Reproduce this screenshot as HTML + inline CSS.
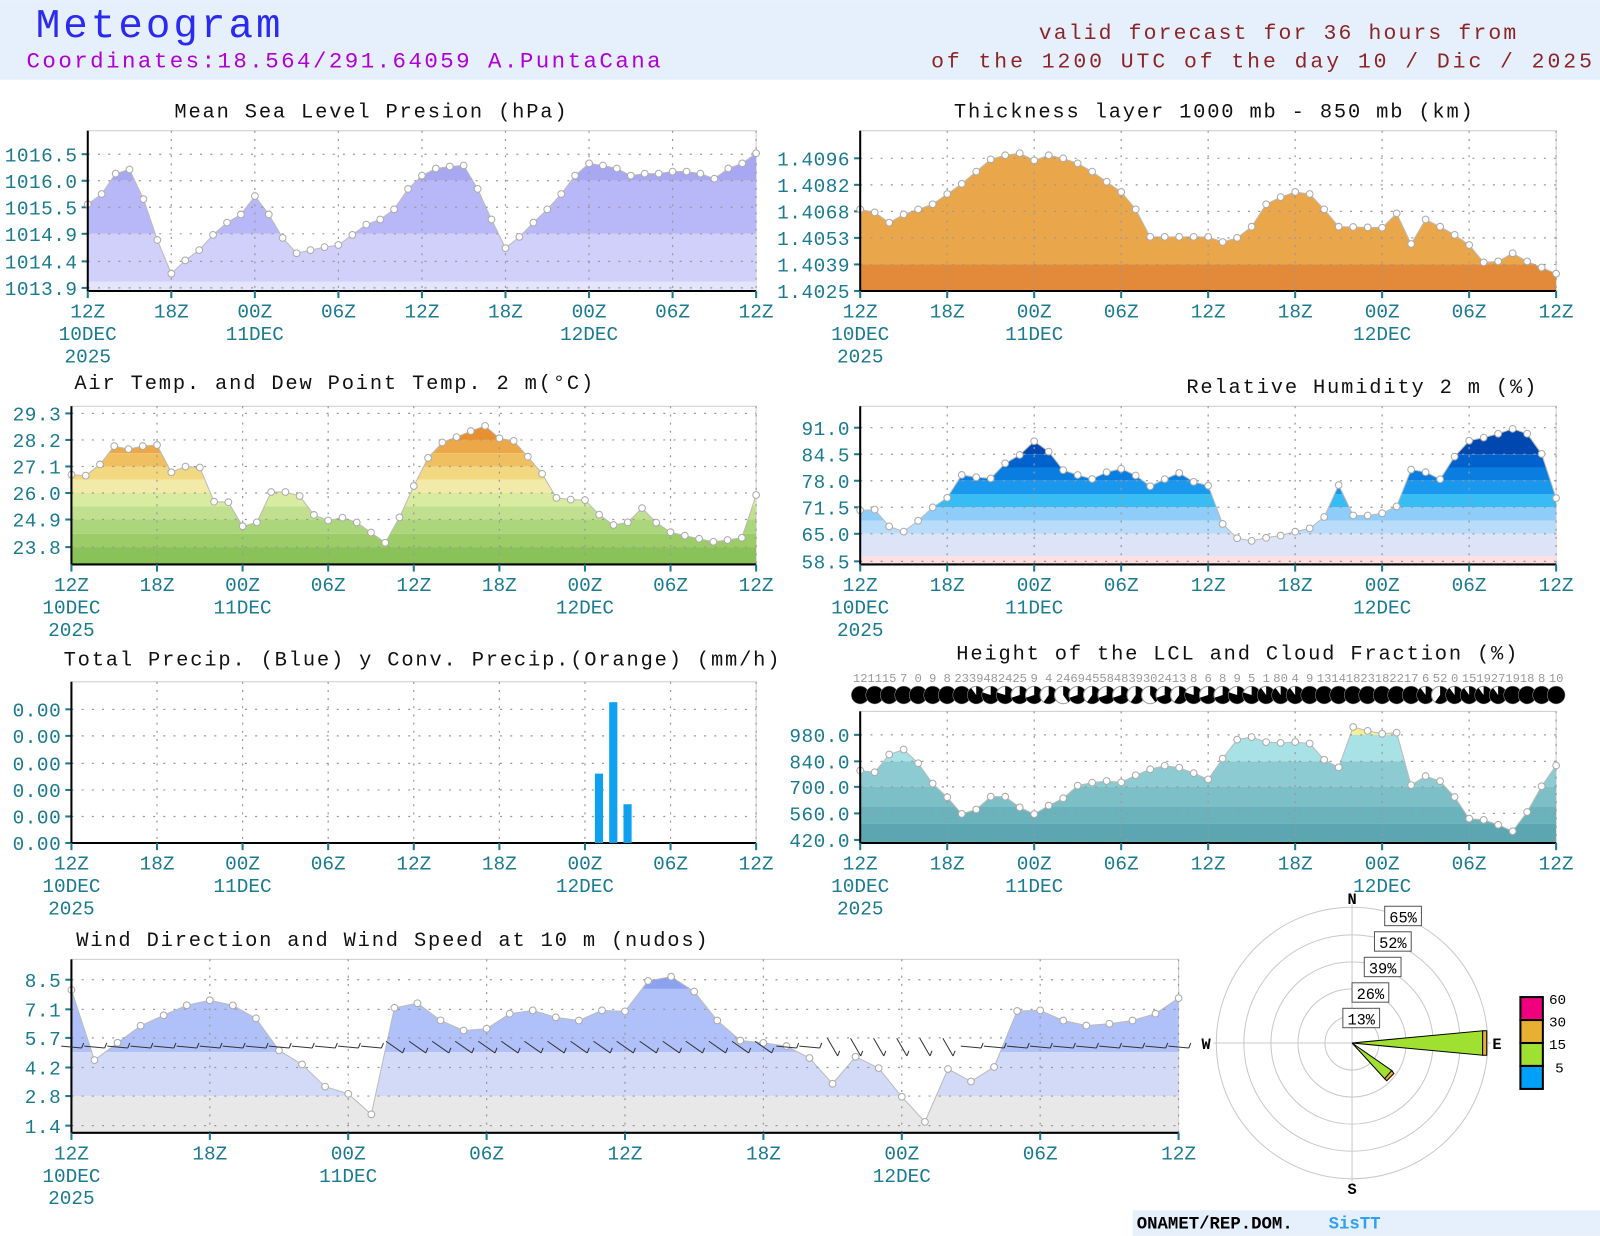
<!DOCTYPE html>
<html><head><meta charset="utf-8"><style>
html,body{margin:0;padding:0;background:#fff}
svg{display:block}
text{font-family:"Liberation Mono","DejaVu Sans Mono",monospace}
</style></head><body>
<svg id="s" width="1600" height="1236" viewBox="0 0 1568 1211" xmlns="http://www.w3.org/2000/svg"></svg>
<script>
var o='';
var T='#1a7a90';
function t(x,y,s,size,fill,anchor,extra){o+='<text x="'+x+'" y="'+y+'" font-size="'+size+'" fill="'+fill+'" text-anchor="'+(anchor||'start')+'" '+(extra||'')+'>'+s+'</text>';}
o+='<rect x="0" y="0" width="1568" height="78" fill="#e6effc"/>';
t(35,36,'Meteogram',40,'#2a2af0','start','letter-spacing="3"');
t(26,66,'Coordinates:18.564/291.64059  A.PuntaCana',22,'#b000d8','start','letter-spacing="2.4"');
t(1488,38,'valid forecast for 36 hours from',21,'#8b2525','end','letter-spacing="2.1"');
t(1563,66,'of the 1200 UTC of the day 10 / Dic / 2025',21,'#8b2525','end','letter-spacing="2.9"');
var pid=0;
function interp(keys,h){for(var i=0;i<keys.length-1;i++){if(h>=keys[i][0]&&h<=keys[i+1][0]){var a=keys[i],b=keys[i+1];return a[1]+(b[1]-a[1])*(h-a[0])/(b[0]-a[0]);}}return keys[keys.length-1][1];}
function panel(P){
 pid++;
 var x0=P.x0,x1=P.x1,yt=P.yt,yb=P.yb,n=P.n||48;
 o+='<rect x="'+x0+'" y="'+yt+'" width="'+(x1-x0)+'" height="'+(yb-yt)+'" fill="#fff" stroke="#ccc" stroke-width="1"/>';
 if(P.keys){
 var pts=[];for(var h=0;h<=n;h++){var x=x0+(x1-x0)*h/n;pts.push([x,interp(P.keys,h)]);}
 var poly=x0+','+yb+' '+pts.map(function(p){return p[0].toFixed(1)+','+p[1].toFixed(1)}).join(' ')+' '+x1+','+yb;
 o+='<clipPath id="c'+pid+'"><polygon points="'+poly+'"/></clipPath><g clip-path="url(#c'+pid+')">';
 P.bands.forEach(function(b){o+='<rect x="'+x0+'" y="'+b[0]+'" width="'+(x1-x0)+'" height="'+(b[1]-b[0])+'" fill="'+b[2]+'"/>';});
 o+='</g>';
 o+='<polyline points="'+pts.map(function(p){return p[0].toFixed(1)+','+p[1].toFixed(1)}).join(' ')+'" fill="none" stroke="#bbb" stroke-width="1"/>';
 P._pts=pts;
 }
 P.xt.forEach(function(x){o+='<line x1="'+x+'" y1="'+yt+'" x2="'+x+'" y2="'+yb+'" stroke="#999" stroke-width="1.2" stroke-dasharray="2,6"/>';});
 P.yl.forEach(function(l){o+='<line x1="'+x0+'" y1="'+l[1]+'" x2="'+x1+'" y2="'+l[1]+'" stroke="#999" stroke-width="1.2" stroke-dasharray="2,8"/>';
  o+='<line x1="'+(x0-6)+'" y1="'+l[1]+'" x2="'+x0+'" y2="'+l[1]+'" stroke="'+T+'" stroke-width="2"/>';
  t(x0-10,l[1]+7,l[0],19,T,'end','letter-spacing="0.5"');});
 if(P._pts){P._pts.forEach(function(p){o+='<circle cx="'+p[0].toFixed(1)+'" cy="'+p[1].toFixed(1)+'" r="3.3" fill="#fff" stroke="#aaa" stroke-width="1"/>';});}
 o+='<line x1="'+x0+'" y1="'+yt+'" x2="'+x0+'" y2="'+yb+'" stroke="#000" stroke-width="2"/>';
 o+='<line x1="'+x0+'" y1="'+yb+'" x2="'+x1+'" y2="'+yb+'" stroke="#000" stroke-width="2"/>';
 var lab=['12Z','18Z','00Z','06Z','12Z','18Z','00Z','06Z','12Z'];
 P.xt.forEach(function(x,i){o+='<line x1="'+x+'" y1="'+yb+'" x2="'+x+'" y2="'+(yb+7)+'" stroke="'+T+'" stroke-width="2"/>';
  t(x,yb+26,lab[i],19,T,'middle');});
 t(P.xt[0],yb+48,'10DEC',19,T,'middle');t(P.xt[2],yb+48,'11DEC',19,T,'middle');t(P.xt[6],yb+48,'12DEC',19,T,'middle');
 t(P.xt[0],yb+70,'2025',19,T,'middle');
 t(P.tx,P.ty,P.title,20,'#111','middle','letter-spacing="1.8"');
}
function ticks(a,b){var r=[];for(var i=0;i<=8;i++)r.push(a+(b-a)*i/8);return r;}
function kx(x0,x1,arr){var s=(x1-x0)/48;return arr.map(function(p){return [(p[0]-x0)/s,p[1]];});}
var m=[200,190,170,166,195,235,268,255,245,230,218,210,192,210,233,248,245,242,240,230,220,215,205,185,172,165,163,162,185,215,243,232,218,205,190,172,160,162,165,172,170,170,168,168,170,175,165,160,150];
panel({x0:86,x1:741,yt:128,yb:285,keys:m.map(function(v,i){return[i,v]}),xt:ticks(86,741),
 bands:[[0,177,'#a8a8f2'],[177,229,'#b8b8f8'],[229,276,'#d0d0fa'],[276,300,'#e4e4fc']],
 yl:[['1016.5',151],['1016.0',177],['1015.5',203],['1014.9',229],['1014.4',256],['1013.9',282]],
 title:'Mean Sea Level Presion (hPa)',tx:364,ty:115});
panel({x0:843,x1:1525,yt:128,yb:285,keys:[[0,205],[1,208],[2,218],[3,210],[4,205],[5,200],[6,190],[7,180],[8,168],[9,156],[10,152],[10.5,148],[11,150],[12,157],[13,152],[14,155],[15,160],[16,168],[17,178],[18,188],[19,205],[20,232],[24,232],[25,237],[26,233],[27,222],[28,200],[29,193],[30,188],[31,190],[32,205],[33,222],[36,223],[37,209],[38,239],[39,215],[40,222],[41,230],[42,240],[43,257],[44,256],[45,248],[46,256],[47,262],[48,268]],
 xt:ticks(843,1525),bands:[[0,259,'#eaa64a'],[259,300,'#e28a3a']],
 yl:[['1.4096',155],['1.4082',181],['1.4068',207],['1.4053',233],['1.4039',259],['1.4025',285]],
 title:'Thickness layer 1000 mb - 850 mb (km)',tx:1190,ty:115});
panel({x0:70,x1:741,yt:398,yb:553,keys:kx(70,741,[[70,465],[84,466],[98,455],[112,437],[126,440],[140,437],[154,436],[168,463],[182,457],[196,458],[210,492],[224,492],[238,516],[250,516],[264,482],[280,482],[294,486],[308,505],[322,510],[336,507],[350,512],[378,532],[392,506],[400,507],[408,462],[432,434],[448,428],[462,422],[476,417],[490,430],[504,432],[530,462],[546,489],[574,490],[588,505],[602,515],[614,513],[630,497],[644,513],[658,522],[686,528],[700,531],[727,527],[741,485]]),
 xt:ticks(70,741),bands:[[0,418,'#e07a20'],[418,431,'#e89030'],[431,444,'#eca848'],[444,457,'#f0c060'],[457,470,'#f2d880'],[470,483,'#f2eaa8'],[483,496,'#d8eca0'],[496,509,'#c0e090'],[509,523,'#acd67c'],[523,536,'#9ccc68'],[536,560,'#88c258']],
 yl:[['29.3',405],['28.2',431],['27.1',457],['26.0',483],['24.9',509],['23.8',536]],
 title:'Air Temp. and Dew Point Temp. 2 m(°C)',tx:328,ty:381});
panel({x0:843,x1:1525,yt:398,yb:553,keys:kx(843,1525,[[843,500],[857,499],[870,515],[884,522],[898,512],[912,498],[926,492],[940,465],[955,467],[968,472],[983,455],[997,448],[1013,432],[1026,440],[1040,460],[1055,465],[1069,470],[1083,463],[1098,459],[1112,465],[1126,477],[1140,470],[1155,463],[1169,472],[1183,473],[1197,512],[1211,527],[1226,530],[1240,527],[1254,525],[1269,521],[1283,518],[1297,508],[1312,475],[1325,505],[1340,505],[1354,503],[1368,498],[1382,460],[1396,462],[1411,470],[1425,448],[1439,432],[1453,429],[1468,425],[1482,420],[1497,425],[1511,445],[1525,488]]),
 xt:ticks(843,1525),bands:[[0,445,'#0048b0'],[445,458,'#0062cc'],[458,471,'#0a7ee0'],[471,484,'#1a98ee'],[484,497,'#38bcf4'],[497,510,'#90ccfa'],[510,523,'#b8dcfa'],[523,545,'#dde4f8'],[545,560,'#fde0e0']],
 yl:[['91.0',419],['84.5',445],['78.0',471],['71.5',497],['65.0',523],['58.5',550]],
 title:'Relative Humidity 2 m (%)',tx:1335,ty:385});
panel({x0:70,x1:741,yt:668,yb:826,xt:ticks(70,741),bands:[],
 yl:[['0.00',695],['0.00',721],['0.00',748],['0.00',774],['0.00',800],['0.00',826]],
 title:'Total Precip. (Blue) y Conv. Precip.(Orange) (mm/h)',tx:414,ty:652});
o+='<rect x="583" y="758" width="8" height="68" fill="#10a0f0"/><rect x="597" y="688" width="8" height="138" fill="#10a0f0"/><rect x="611" y="788" width="8" height="38" fill="#10a0f0"/>';
panel({x0:843,x1:1525,yt:697,yb:826,keys:kx(843,1525,[[843,755],[857,757],[870,740],[884,733],[898,745],[912,766],[926,778],[940,798],[955,795],[968,781],[983,779],[997,790],[1013,798],[1026,790],[1040,784],[1055,770],[1069,767],[1083,765],[1098,767],[1112,760],[1126,754],[1140,750],[1155,752],[1169,757],[1183,765],[1197,745],[1211,725],[1226,722],[1240,727],[1254,728],[1269,727],[1283,728],[1297,744],[1312,752],[1325,712],[1340,716],[1354,719],[1368,715],[1382,770],[1396,760],[1411,765],[1425,780],[1439,802],[1453,803],[1468,808],[1482,815],[1497,795],[1511,770],[1525,750]]),
 xt:ticks(843,1525),bands:[[0,720,'#f6f090'],[720,746,'#a8e2e6'],[746,771,'#8ccbd2'],[771,790,'#7cbfc7'],[790,807,'#6ab2bc'],[807,840,'#5ca6b2']],
 yl:[['980.0',720],['840.0',746],['700.0',771],['560.0',797],['420.0',823]],
 title:'Height of the LCL and Cloud Fraction (%)',tx:1213,ty:646});
for(var i=0;i<=48;i++){var cx=843+(1525-843)*i/48;var fr=[1,1,1,1,1,1,1,1,.9,.8,.8,.7,.7,.6,.4,.7,.6,.7,.7,.6,.4,.7,.6,.8,.7,.7,.8,.8,.9,.9,.9,1,1,1,1,1,1,1,1,.9,.6,.9,.9,.9,.9,1,1,1,1][i];
 o+='<circle cx="'+cx.toFixed(1)+'" cy="681" r="8.5" fill="#fff" stroke="#999" stroke-width="1"/>';
 var a=fr*2*Math.PI;
 if(fr>=1)o+='<circle cx="'+cx.toFixed(1)+'" cy="681" r="8.5" fill="#000"/>';
 else{var ex=cx+8.5*Math.sin(a),ey=681-8.5*Math.cos(a);o+='<path d="M'+cx+',681 L'+cx+',672.5 A8.5,8.5 0 '+(fr>.5?1:0)+',1 '+ex.toFixed(1)+','+ey.toFixed(1)+' Z" fill="#000"/>';}
 t(cx,668,String([12,11,15,7,0,9,8,23,39,48,24,25,9,4,24,69,45,58,48,39,30,24,13,8,6,8,9,5,1,80,4,9,13,14,18,23,18,22,17,6,52,0,15,19,27,19,18,8,10][i]),12,'#999','middle');}
panel({x0:70,x1:1155,yt:940,yb:1110,keys:kx(70,1155,[[70,970],[93,1040],[115,1022],[138,1005],[160,995],[183,985],[206,980],[228,985],[251,998],[274,1030],[296,1043],[319,1065],[342,1072],[364,1092],[387,985],[409,983],[432,1000],[455,1010],[477,1008],[500,993],[522,990],[545,997],[568,1000],[590,990],[613,991],[636,960],[658,957],[681,972],[703,1000],[726,1020],[749,1022],[771,1025],[794,1037],[816,1062],[839,1035],[862,1047],[884,1075],[907,1100],[930,1045],[952,1060],[975,1045],[997,990],[1020,990],[1042,1000],[1065,1005],[1088,1003],[1110,1000],[1133,993],[1155,978]]),
 xt:ticks(70,1155),bands:[[0,969,'#8ca2f0'],[969,1031,'#b0c0f8'],[1031,1074,'#d2daf8'],[1074,1120,'#e8e8e8']],
 yl:[['8.5',960],['7.1',989],['5.7',1017],['4.2',1046],['2.8',1074],['1.4',1103]],
 title:'Wind Direction and Wind Speed at 10 m (nudos)',tx:385,ty:927});
for(var i=0;i<=48;i++){var x=70+(1155-70)*i/48;var y=1026;var ang=(i>=14&&i<=30)?35:(i>=33&&i<=38?60:5);
 var r=ang*Math.PI/180;var dx=10*Math.cos(r),dy=10*Math.sin(r);
 o+='<line x1="'+(x-dx).toFixed(1)+'" y1="'+(y-dy).toFixed(1)+'" x2="'+(x+dx).toFixed(1)+'" y2="'+(y+dy).toFixed(1)+'" stroke="#333" stroke-width="1"/>';
 o+='<line x1="'+(x+dx).toFixed(1)+'" y1="'+(y+dy).toFixed(1)+'" x2="'+(x+dx+2).toFixed(1)+'" y2="'+(y+dy-5).toFixed(1)+'" stroke="#333" stroke-width="1"/>';}
var cx=1325,cy=1022;
[26.5,53,79.5,106,133].forEach(function(r){o+='<circle cx="'+cx+'" cy="'+cy+'" r="'+r+'" fill="none" stroke="#c8c8c8" stroke-width="1"/>';});
o+='<line x1="'+cx+'" y1="'+(cy-136)+'" x2="'+cx+'" y2="'+(cy+136)+'" stroke="#c8c8c8"/><line x1="'+(cx-136)+'" y1="'+cy+'" x2="'+(cx+136)+'" y2="'+cy+'" stroke="#c8c8c8"/>';
o+='<polygon points="1325,1022 1453,1010 1453,1034" fill="#a0e030" stroke="#000" stroke-width="1"/><rect x="1453" y="1010" width="4" height="24" fill="#e8b030" stroke="#000" stroke-width="1"/>';
o+='<polygon points="1325,1022 1364,1049 1357,1057" fill="#a0e030" stroke="#000" stroke-width="1"/><polygon points="1364,1049 1366,1052 1359,1059 1357,1057" fill="#e8b030" stroke="#000"/>';
[['13%',1334,998],['26%',1343,973],['39%',1355,948],['52%',1365,923],['65%',1375,898]].forEach(function(l){o+='<rect x="'+(l[1]-18)+'" y="'+(l[2]-10)+'" width="36" height="19" fill="#fff" stroke="#555" stroke-width="1"/>';t(l[1],l[2]+6,l[0],15,'#000','middle');});
t(1325,886,'N',15,'#000','middle','font-weight="bold"');t(1325,1170,'S',15,'#000','middle','font-weight="bold"');
t(1182,1028,'W',15,'#000','middle','font-weight="bold"');t(1467,1028,'E',15,'#000','middle','font-weight="bold"');
[['#f0007f',977],['#e8b030',999.5],['#a0e030',1022],['#00a0f8',1044.5]].forEach(function(b){o+='<rect x="1490" y="'+b[1]+'" width="22" height="22.5" fill="'+b[0]+'" stroke="#000" stroke-width="2"/>';});
t(1518,984,'60',14,'#000');t(1518,1006,'30',14,'#000');t(1518,1028,'15',14,'#000');t(1524,1051,'5',14,'#000');
o+='<rect x="1110" y="1186" width="458" height="25" fill="#e6effc"/>';
t(1114,1204,'ONAMET/REP.DOM.',17,'#000','start','font-weight="bold"');t(1302,1204,'SisTT',17,'#30a0f0','start','font-weight="bold"');
document.getElementById('s').innerHTML=o;
</script>
</body></html>
